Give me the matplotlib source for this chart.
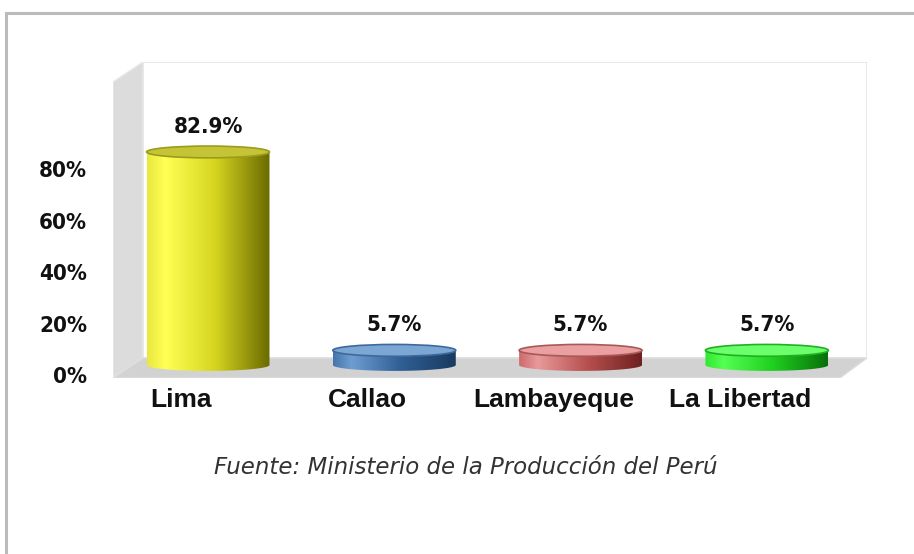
import numpy as np
import matplotlib
matplotlib.use("Agg")
import matplotlib.pyplot as plt
from matplotlib.patches import Ellipse, Polygon, Rectangle
from matplotlib.lines import Line2D
from matplotlib.colors import LinearSegmentedColormap
from matplotlib.transforms import offset_copy

# data
regions = ["Lima", "Callao", "Lambayeque", "La Libertad"]
shares = [82.9, 5.7, 5.7, 5.7]
value_labels = ["82.9%", "5.7%", "5.7%", "5.7%"]
ytick_vals = [0, 20, 40, 60, 80]
ytick_labels = ["0%", "20%", "40%", "60%", "80%"]
source = "Fuente: Ministerio de la Producción del Perú"

# body gradients (left -> right) and top faces
body_colors = [
    ["#e8e840", "#ffff55", "#d6d620", "#6a6a00"],
    ["#4675aa", "#6f9dd2", "#2f5f95", "#1a3a60"],
    ["#cc6a6a", "#e89a9a", "#b85050", "#6e2020"],
    ["#30e830", "#55ff55", "#20d020", "#087008"],
]
top_face = ["#c4c436", "#7ca6d4", "#eaa0a0", "#6cff6c"]
top_edge = ["#9c9c1c", "#3d6a9a", "#a85858", "#22b022"]

num_font = dict(family="DejaVu Sans", stretch="condensed", fontweight="bold",
                fontsize=16, color="#111111")

fig = plt.figure(figsize=(9.14, 5.54), dpi=100)
fig.patch.set_facecolor("white")

# outer frame (top and left edges only)
fig.add_artist(Line2D([6 / 914, 1], [1 - 13 / 554] * 2, color="#bbbbbb", lw=2.2))
fig.add_artist(Line2D([6 / 914] * 2, [0, 1 - 13 / 554], color="#bbbbbb", lw=2.2))

# axes = plot area incl. 3D walls
ax = fig.add_axes([113 / 914, (554 - 378) / 554, 754 / 914, 316 / 554])
ax.set_axis_off()

# 3D walls in axes fraction
dx, dy = 30 / 754, 20 / 316
ax.add_patch(Rectangle((dx, dy), 1 - dx, 1 - dy, transform=ax.transAxes,
                       facecolor="white", edgecolor="#e4e4e4", lw=1.2, zorder=0))
ax.add_patch(Polygon([(0, 0), (0, 1 - dy), (dx, 1), (dx, dy)], closed=True,
                     transform=ax.transAxes, facecolor="#dcdcdc", edgecolor="#e8e8e8",
                     lw=1, zorder=0))
ax.add_patch(Polygon([(0, 0), (dx, dy), (1, dy), (1 - 27 / 754, 0)], closed=True,
                     transform=ax.transAxes, facecolor="#d2d2d2", edgecolor="#dedede",
                     lw=1, zorder=0.5))

hw = 0.33    # half width in category units
eh = 4.6     # ellipse height in % units
x = np.arange(len(regions))

for i, (xc, h) in enumerate(zip(x, shares)):
    theta = np.linspace(0, -np.pi, 80)
    arc = np.column_stack([xc + hw * np.cos(theta), eh / 2 * np.sin(theta)])
    body = np.vstack([[xc - hw, h], [xc + hw, h], arc])
    poly = Polygon(body, closed=True, facecolor="none", edgecolor="none", zorder=2)
    ax.add_patch(poly)
    cmap = LinearSegmentedColormap.from_list(
        "c%d" % i, list(zip([0, 0.15, 0.55, 1], body_colors[i])))
    im = ax.imshow(np.linspace(0, 1, 256).reshape(1, -1), cmap=cmap,
                   extent=[xc - hw, xc + hw, -eh / 2, h], aspect="auto",
                   interpolation="bilinear", zorder=2)
    im.set_clip_path(poly)
    ax.add_patch(Ellipse((xc, h), 2 * hw, eh, facecolor=top_face[i],
                         edgecolor=top_edge[i], lw=1.2, zorder=3))
    ax.annotate(value_labels[i], (xc, h), xytext=(0, 25), textcoords="offset pixels",
                ha="center", va="center", zorder=4, **num_font)

ax.set_xlim((113 - 208) / 186.3, (867 - 208) / 186.3)
ax.set_ylim((365 - 378) / 2.57, (365 - 62) / 2.57)

# y tick labels (front plane, shifted by the 3D depth)
ytr = offset_copy(ax.get_yaxis_transform(), fig=fig, x=-26, y=-12, units="dots")
for v, lab in zip(ytick_vals, ytick_labels):
    ax.text(0, v, lab, transform=ytr, ha="right", va="center", **num_font)

# category labels
xtr = offset_copy(ax.get_xaxis_transform(), fig=fig, x=-27, y=0, units="dots")
for xc, lab in zip(x, regions):
    ax.text(xc, -22 / 316, lab, transform=xtr, ha="center", va="center",
            fontsize=19, fontweight="bold", family=["Liberation Sans", "DejaVu Sans"],
            color="#111111")

fig.text(466 / 914, 1 - 468 / 554, source, ha="center", va="center",
         fontsize=16.5, style="italic", family="DejaVu Sans", color="#333333")

fig.savefig("out.png", dpi=100)
